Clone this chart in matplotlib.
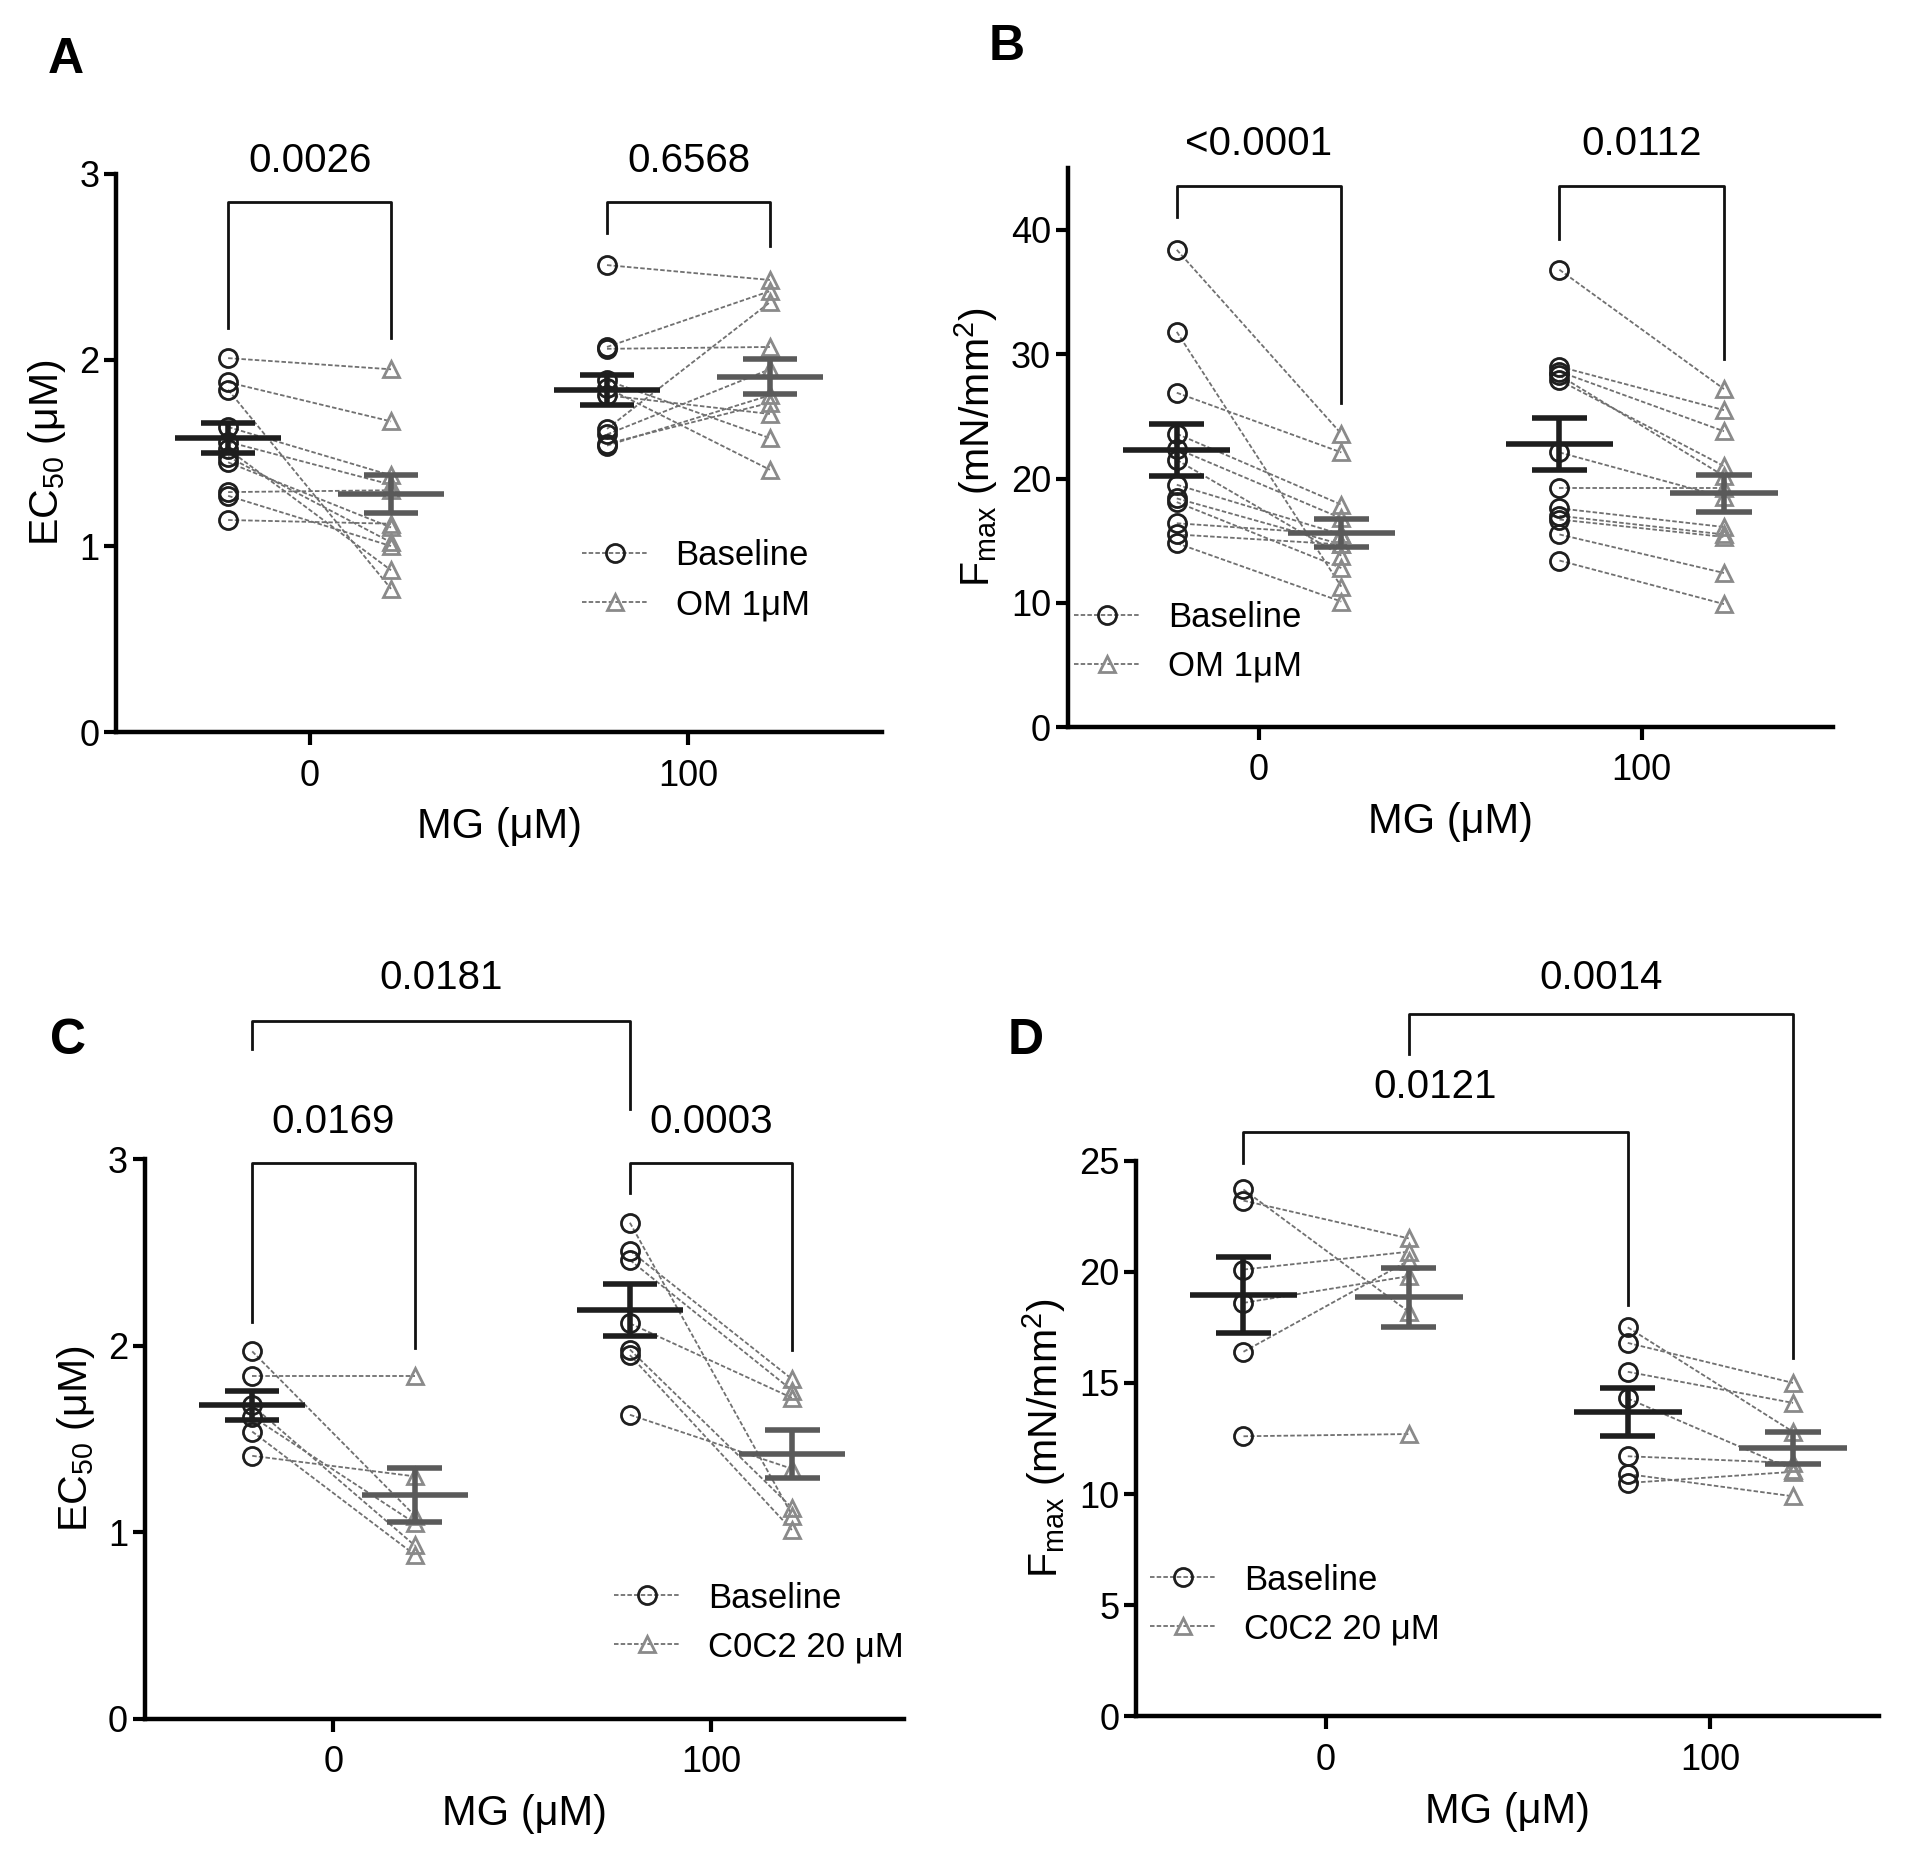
import matplotlib.pyplot as plt
from matplotlib.lines import Line2D

plt.switch_backend("Agg")
plt.rcParams["font.family"] = ["Liberation Sans", "DejaVu Sans"]
plt.rcParams["mathtext.default"] = "regular"

group_labels = ["0", "100"]

# Panel A: EC50, baseline vs OM 1 uM
a_base_0 = [2.01, 1.88, 1.84, 1.64, 1.56, 1.52, 1.48, 1.45, 1.29, 1.27, 1.14]
a_trt_0 = [1.95, 1.67, 0.77, 1.38, 1.33, 0.87, 1.02, 1.10, 1.30, 1.00, 1.12]
a_base_100 = [2.51, 2.07, 2.06, 1.89, 1.85, 1.81, 1.63, 1.60, 1.55, 1.54]
a_trt_100 = [2.43, 2.37, 2.07, 1.58, 1.41, 1.71, 2.31, 1.95, 1.77, 1.81]
a_means = [1.58, 1.28, 1.84, 1.91]
a_sems = [0.08, 0.10, 0.08, 0.095]

# Panel B: Fmax, baseline vs OM 1 uM
b_base_0 = [38.4, 31.8, 26.9, 23.6, 22.4, 21.5, 19.5, 18.4, 18.1, 16.4, 15.5, 14.8]
b_trt_0 = [23.6, 11.3, 22.1, 17.9, 16.8, 13.8, 15.5, 14.7, 12.8, 15.5, 14.7, 10.1]
b_base_100 = [36.8, 29.0, 28.6, 28.3, 27.9, 22.1, 19.2, 17.6, 17.0, 16.7, 15.5, 13.4]
b_trt_100 = [27.2, 25.5, 23.8, 20.2, 21.0, 18.5, 19.2, 16.1, 15.5, 15.3, 12.4, 9.9]
b_means = [22.3, 15.6, 22.8, 18.8]
b_sems = [2.1, 1.15, 2.1, 1.5]

# Panel C: EC50, baseline vs C0C2 20 uM
c_base_0 = [1.97, 1.84, 1.68, 1.62, 1.54, 1.41]
c_trt_0 = [1.09, 1.84, 0.93, 1.05, 0.88, 1.30]
c_base_100 = [2.66, 2.51, 2.46, 2.12, 1.98, 1.95, 1.63]
c_trt_100 = [1.09, 1.82, 1.76, 1.72, 1.13, 1.01, 1.34]
c_means = [1.68, 1.20, 2.19, 1.42]
c_sems = [0.08, 0.145, 0.14, 0.13]

# Panel D: Fmax, baseline vs C0C2 20 uM
d_base_0 = [23.7, 23.2, 20.1, 18.6, 16.4, 12.6]
d_trt_0 = [18.2, 21.5, 20.9, 19.8, 20.5, 12.7]
d_base_100 = [17.5, 16.8, 15.5, 14.3, 11.7, 10.9, 10.5]
d_trt_100 = [12.8, 15.0, 14.1, 11.1, 11.4, 9.9, 11.0]
d_means = [18.95, 18.85, 13.7, 12.05]
d_sems = [1.72, 1.33, 1.08, 0.72]

OFFSET = 0.215
BASE_COLOR = "#1e1e1e"
TRT_COLOR = "#8a8a8a"
TRT_MEAN_COLOR = "#5a5a5a"
LINK_COLOR = "#707070"


def draw_pairs(ax, x0, x1, before, after):
    for b, t in zip(before, after):
        ax.plot([x0, x1], [b, t], color=LINK_COLOR, lw=1.3, ls=(0, (2.5, 1.2)), zorder=2)
    ax.plot([x0] * len(before), before, "o", mfc="none", mec=BASE_COLOR, mew=2.0, ms=13, zorder=3)
    ax.plot([x1] * len(after), after, "^", mfc="none", mec=TRT_COLOR, mew=2.0, ms=12, zorder=3)


def draw_mean(ax, x, m, s, color):
    ax.hlines(m, x - 0.14, x + 0.14, color=color, lw=4, zorder=4)
    ax.hlines([m - s, m + s], x - 0.072, x + 0.072, color=color, lw=4, zorder=4)
    ax.vlines(x, m - s, m + s, color=color, lw=4, zorder=4)


def bracket(ax, x0, x1, top, left_bottom, right_bottom, label, text_y):
    ax.plot([x0, x0, x1, x1], [left_bottom, top, top, right_bottom],
            color="#111111", lw=2.0, clip_on=False, zorder=5)
    ax.text((x0 + x1) / 2, text_y, label, ha="center", va="center",
            fontsize=29, clip_on=False)


def draw_panel(ax, base_0, trt_0, base_100, trt_100, means, sems, ylim, yticks, ylabel, xlim):
    xs = [-OFFSET, OFFSET, 1 - OFFSET, 1 + OFFSET]
    draw_pairs(ax, xs[0], xs[1], base_0, trt_0)
    draw_pairs(ax, xs[2], xs[3], base_100, trt_100)
    colors = [BASE_COLOR, TRT_MEAN_COLOR, BASE_COLOR, TRT_MEAN_COLOR]
    for x, m, s, c in zip(xs, means, sems, colors):
        draw_mean(ax, x, m, s, c)

    ax.set_xlim(*xlim)
    ax.set_ylim(*ylim)
    ax.set_xticks([0, 1])
    ax.set_xticklabels(group_labels)
    ax.set_yticks(yticks)
    ax.spines["top"].set_visible(False)
    ax.spines["right"].set_visible(False)
    for side in ["left", "bottom"]:
        ax.spines[side].set_linewidth(3.2)
    ax.tick_params(axis="both", width=3.0, length=9, labelsize=26)
    ax.tick_params(axis="x", pad=10)
    ax.tick_params(axis="y", pad=3)
    ax.set_xlabel("MG (μM)", fontsize=30, labelpad=10)
    ax.set_ylabel(ylabel, fontsize=29.5, labelpad=8)
    return xs


def add_legend(ax, treat_label, anchor):
    handles = [
        Line2D([0], [0], color=LINK_COLOR, ls=(0, (2.5, 1.2)), lw=1.3,
               marker="o", mfc="none", mec=BASE_COLOR, mew=2.0, ms=13),
        Line2D([0], [0], color=LINK_COLOR, ls=(0, (2.5, 1.2)), lw=1.3,
               marker="^", mfc="none", mec=TRT_COLOR, mew=2.0, ms=12),
    ]
    ax.legend(handles, ["Baseline", treat_label], loc="upper left", bbox_to_anchor=anchor,
              frameon=False, fontsize=25, handlelength=1.9, handletextpad=0.8,
              labelspacing=0.45, borderaxespad=0)


fig = plt.figure(figsize=(19.2, 18.62), dpi=100)

ec50_label = "EC$_{50}$ (μM)"
fmax_label = "F$_{max}$ (mN/mm$^{2}$)"

# A
ax_a = fig.add_axes([0.0606, 0.6068, 0.3986, 0.2998])
xs = draw_panel(ax_a, a_base_0, a_trt_0, a_base_100, a_trt_100, a_means, a_sems,
                (0, 3), [0, 1, 2, 3], ec50_label, (-0.51, 1.51))
bracket(ax_a, xs[0], xs[1], 2.85, 2.17, 2.12, "0.0026", 3.07)
bracket(ax_a, xs[2], xs[3], 2.85, 2.68, 2.61, "0.6568", 3.07)
add_legend(ax_a, "OM 1μM", (0.59, 0.37))

# B
ax_b = fig.add_axes([0.5561, 0.6095, 0.3986, 0.3004])
xs = draw_panel(ax_b, b_base_0, b_trt_0, b_base_100, b_trt_100, b_means, b_sems,
                (0, 45), [0, 10, 20, 30, 40], fmax_label, (-0.5, 1.5))
bracket(ax_b, xs[0], xs[1], 43.5, 41.0, 26.1, "<0.0001", 46.9)
bracket(ax_b, xs[2], xs[3], 43.5, 39.3, 29.6, "0.0112", 46.9)
add_legend(ax_b, "OM 1μM", (-0.01, 0.25))

# C
ax_c = fig.add_axes([0.0753, 0.0769, 0.3954, 0.3005])
xs = draw_panel(ax_c, c_base_0, c_trt_0, c_base_100, c_trt_100, c_means, c_sems,
                (0, 3), [0, 1, 2, 3], ec50_label, (-0.5, 1.51))
bracket(ax_c, xs[0], xs[1], 2.98, 2.13, 1.99, "0.0169", 3.2)
bracket(ax_c, xs[2], xs[3], 2.98, 2.82, 1.98, "0.0003", 3.2)
bracket(ax_c, xs[0], xs[2], 3.74, 3.59, 3.27, "0.0181", 3.97)
add_legend(ax_c, "C0C2 20 μM", (0.6, 0.27))

# D
ax_d = fig.add_axes([0.5918, 0.0782, 0.3871, 0.2985])
xs = draw_panel(ax_d, d_base_0, d_trt_0, d_base_100, d_trt_100, d_means, d_sems,
                (0, 25), [0, 5, 10, 15, 20, 25], fmax_label, (-0.494, 1.44))
bracket(ax_d, xs[0], xs[2], 26.3, 24.9, 18.5, "0.0121", 28.3)
bracket(ax_d, xs[1], xs[3], 31.6, 29.8, 16.1, "0.0014", 33.2)
add_legend(ax_d, "C0C2 20 μM", (0.0, 0.3))

# panel letters
for label, (x, y) in zip("ABCD", [(0.025, 0.968), (0.515, 0.975), (0.026, 0.441), (0.525, 0.441)]):
    fig.text(x, y, label, fontsize=36, fontweight="bold", ha="left", va="center")

fig.savefig("out.png", dpi=100)
